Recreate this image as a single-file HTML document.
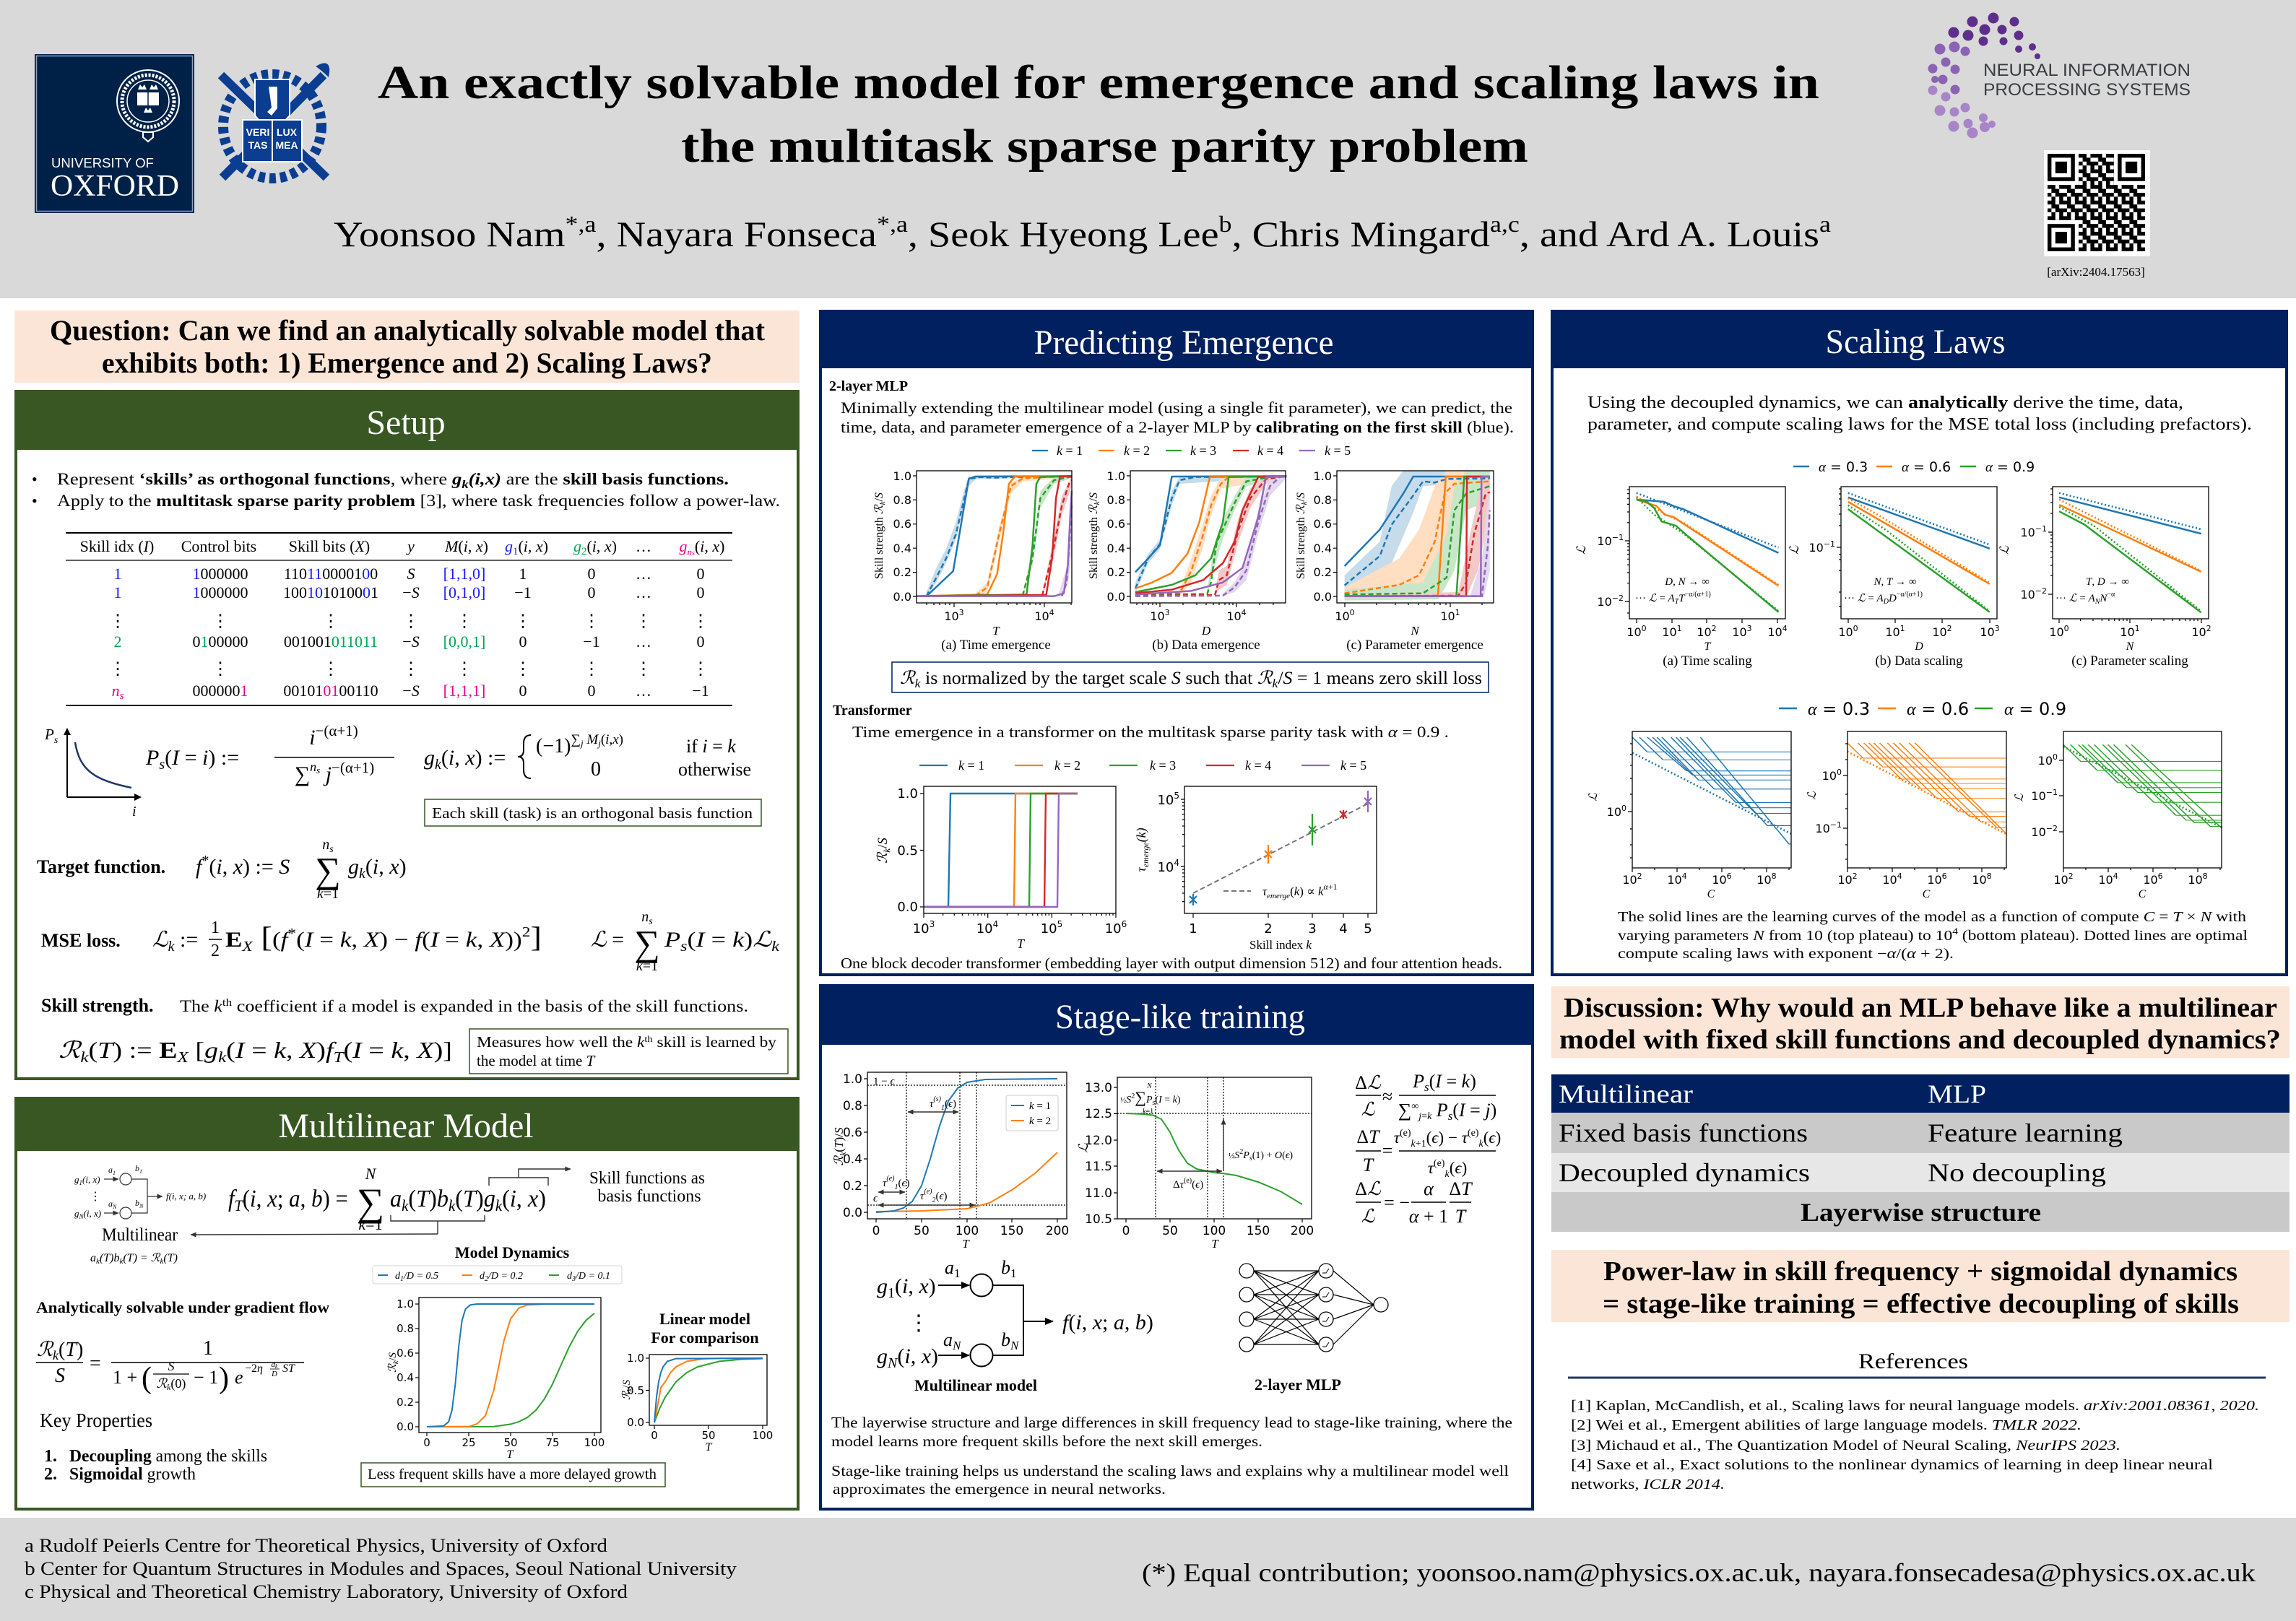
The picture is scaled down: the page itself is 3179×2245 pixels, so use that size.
<!DOCTYPE html>
<html><head><meta charset="utf-8"><style>
html,body{margin:0;padding:0;background:#fff;}
svg{display:block}
.s{font-family:"Liberation Serif","DejaVu Serif",serif}
.ss{font-family:"Liberation Sans","DejaVu Sans",sans-serif}
.t{font-family:"DejaVu Sans","Liberation Sans",sans-serif}
.i{font-style:italic}
.b{font-weight:bold}
.ln{fill:none;stroke-width:2.5;vector-effect:non-scaling-stroke;stroke-linejoin:round}
.lt{fill:none;stroke-width:3.2;vector-effect:non-scaling-stroke;stroke-linejoin:round}
.dl{fill:none;stroke-width:2.5;vector-effect:non-scaling-stroke;stroke-dasharray:7 4}
.dt{fill:none;stroke-width:2.6;vector-effect:non-scaling-stroke;stroke-dasharray:2 3}
.fr{fill:none;stroke:#000;stroke-width:1.3}
.tk{stroke:#000;stroke-width:1.2}
</style></head><body>
<svg width="3179" height="2245" viewBox="0 0 3179 2245" xmlns="http://www.w3.org/2000/svg">
<defs>
<marker id="ah" markerUnits="userSpaceOnUse" markerWidth="12" markerHeight="12" refX="11" refY="6" orient="auto-start-reverse"><path d="M0,1 L12,6 L0,11 z" fill="#000"/></marker>
<marker id="as" markerUnits="userSpaceOnUse" markerWidth="8" markerHeight="8" refX="7.5" refY="4" orient="auto-start-reverse"><path d="M0,0.5 L8,4 L0,7.5 z" fill="#333"/></marker>
<pattern id="qr" x="2835" y="213" width="21.6" height="21.6" patternUnits="userSpaceOnUse">
<rect x="0" y="0" width="10.8" height="5.4"/><rect x="16.2" y="0" width="5.4" height="5.4"/><rect x="5.4" y="5.4" width="10.8" height="5.4"/><rect x="0" y="10.8" width="5.4" height="5.4"/><rect x="10.8" y="10.8" width="10.8" height="5.4"/><rect x="5.4" y="16.2" width="5.4" height="5.4"/><rect x="16.2" y="16.2" width="5.4" height="5.4"/>
</pattern>
</defs>
<rect width="3179" height="2245" fill="#fff"/>
<!-- HEADER -->
<rect width="3179" height="413" fill="#d9d9d9"/>
<rect x="48" y="75" width="221" height="220" fill="#002147"/>
<rect x="50.5" y="77.5" width="216" height="215" fill="none" stroke="#8fa2c0" stroke-width="1.5"/>
<circle cx="205" cy="140" r="43" fill="none" stroke="#fff" stroke-width="2"/>
<circle cx="205" cy="140" r="36" fill="none" stroke="#fff" stroke-width="5" stroke-dasharray="3 2"/>
<circle cx="205" cy="140" r="29" fill="none" stroke="#fff" stroke-width="1.5"/>
<rect x="190" y="128" width="30" height="18" fill="#fff"/><line x1="205" y1="128" x2="205" y2="146" stroke="#002147" stroke-width="1.5"/>
<path d="M191,124 l3,-7 l3,4 l3,-4 l3,7 z M207,124 l3,-7 l3,4 l3,-4 l3,7 z M199,156 l3,-7 l3,4 l3,-4 l3,7 z" fill="#fff"/>
<path d="M198,183 h14 v7 l-7,6 l-7,-6 z" fill="none" stroke="#fff" stroke-width="2"/>
<text class="ss" x="71" y="232" font-size="18" fill="#fff" textLength="142" lengthAdjust="spacingAndGlyphs">UNIVERSITY OF</text>
<text class="s" x="70" y="271" font-size="42" fill="#fff" textLength="178" lengthAdjust="spacingAndGlyphs">OXFORD</text>
<!-- SNU -->
<g fill="#0b3d91" stroke="#0b3d91">
<line x1="306" y1="104" x2="452" y2="246" stroke-width="12"/>
<line x1="308" y1="246" x2="448" y2="104" stroke-width="12"/>
<path d="M440,92 q18,-10 14,12 q-6,-6 -14,-12z" stroke-width="3"/>
<ellipse cx="377" cy="175" rx="68" ry="72" fill="none" stroke-width="14" stroke-dasharray="9 6"/>
</g>
<path d="M353,110 H401 V160 Q377,190 353,160 Z" fill="#0b3d91" stroke="#fff" stroke-width="2"/>
<path d="M372,120 h12 v30 l-8,10 l-6,-5 l6,-6 z" fill="#fff"/>
<rect x="336" y="166" width="82" height="58" fill="#0b3d91" stroke="#fff" stroke-width="2"/>
<line x1="377" y1="166" x2="377" y2="224" stroke="#fff" stroke-width="2"/>
<text class="ss b" x="357" y="188" font-size="14" fill="#fff" text-anchor="middle">VERI</text>
<text class="ss b" x="397" y="188" font-size="14" fill="#fff" text-anchor="middle">LUX</text>
<text class="ss b" x="357" y="206" font-size="14" fill="#fff" text-anchor="middle">TAS</text>
<text class="ss b" x="397" y="206" font-size="14" fill="#fff" text-anchor="middle">MEA</text>
<!-- title -->
<text class="s b" x="523" y="136" font-size="66" textLength="1996" lengthAdjust="spacingAndGlyphs">An exactly solvable model for emergence and scaling laws in</text>
<text class="s b" x="943" y="224" font-size="66" textLength="1173" lengthAdjust="spacingAndGlyphs">the multitask sparse parity problem</text>
<text class="s" x="462" y="341" font-size="50" textLength="2073" lengthAdjust="spacingAndGlyphs">Yoonsoo Nam<tspan font-size="32" dy="-20">*,a</tspan><tspan dy="20">, Nayara Fonseca</tspan><tspan font-size="32" dy="-20">*,a</tspan><tspan dy="20">, Seok Hyeong Lee</tspan><tspan font-size="32" dy="-20">b</tspan><tspan dy="20">, Chris Mingard</tspan><tspan font-size="32" dy="-20">a,c</tspan><tspan dy="20">, and Ard A. Louis</tspan><tspan font-size="32" dy="-20">a</tspan></text>
<!-- NeurIPS -->
<g fill="#5e2f8a">
<circle cx="2789" cy="30" r="6.5"/><circle cx="2760" cy="25" r="7.5"/><circle cx="2731" cy="30" r="7.5"/><circle cx="2705" cy="45" r="7.5"/><circle cx="2814" cy="65" r="5"/><circle cx="2795" cy="49" r="6.5"/><circle cx="2772" cy="41" r="6.5"/><circle cx="2748" cy="41" r="7.5"/><circle cx="2725" cy="49" r="7.5"/><circle cx="2795" cy="68" r="5"/><circle cx="2774" cy="57" r="5.5"/><circle cx="2746" cy="57" r="6.5"/><circle cx="2821" cy="78" r="4"/>
</g>
<g fill="#8c63b3">
<circle cx="2686" cy="68" r="7.5"/><circle cx="2676" cy="95" r="6.5"/><circle cx="2706" cy="65" r="7.5"/><circle cx="2694" cy="86" r="6.5"/><circle cx="2690" cy="110" r="6.5"/><circle cx="2721" cy="71" r="6.5"/><circle cx="2707" cy="96" r="6.5"/><circle cx="2707" cy="124" r="6.5"/><circle cx="2679" cy="110" r="5"/>
</g>
<g fill="#a884c8">
<circle cx="2676" cy="125" r="6.5"/><circle cx="2686" cy="153" r="7.5"/><circle cx="2705" cy="175" r="7.5"/><circle cx="2731" cy="184" r="7.5"/><circle cx="2694" cy="134" r="6.5"/><circle cx="2706" cy="155" r="6.5"/><circle cx="2725" cy="171" r="6.5"/><circle cx="2748" cy="176" r="7"/><circle cx="2721" cy="149" r="6.5"/><circle cx="2746" cy="163" r="6"/><circle cx="2758" cy="172" r="5"/>
</g>
<text class="ss" x="2746" y="105" font-size="24" fill="#3a3d42" textLength="287" lengthAdjust="spacingAndGlyphs">NEURAL INFORMATION</text>
<text class="ss" x="2746" y="132" font-size="24" fill="#3a3d42" textLength="287" lengthAdjust="spacingAndGlyphs">PROCESSING SYSTEMS</text>
<!-- QR -->
<rect x="2830" y="208" width="147" height="147" fill="#fff"/>
<rect x="2835" y="213" width="135" height="135" fill="url(#qr)"/>
<g>
<rect x="2835" y="213" width="43" height="43" fill="#fff"/><rect x="2927" y="213" width="43" height="43" fill="#fff"/><rect x="2835" y="305" width="43" height="43" fill="#fff"/>
<rect x="2835" y="213" width="37.8" height="37.8" fill="#000"/><rect x="2840.4" y="218.4" width="27" height="27" fill="#fff"/><rect x="2845.8" y="223.8" width="16.2" height="16.2" fill="#000"/>
<rect x="2932.2" y="213" width="37.8" height="37.8" fill="#000"/><rect x="2937.6" y="218.4" width="27" height="27" fill="#fff"/><rect x="2943" y="223.8" width="16.2" height="16.2" fill="#000"/>
<rect x="2835" y="310.2" width="37.8" height="37.8" fill="#000"/><rect x="2840.4" y="315.6" width="27" height="27" fill="#fff"/><rect x="2845.8" y="321" width="16.2" height="16.2" fill="#000"/>
</g>
<text class="s" x="2902" y="382" font-size="17" text-anchor="middle">[arXiv:2404.17563]</text>

<!-- LEFT COLUMN -->
<rect x="20" y="430" width="1087" height="100" fill="#fbe5d6"/>
<text class="s b" x="69" y="471" font-size="40" textLength="990" lengthAdjust="spacingAndGlyphs">Question: Can we find an analytically solvable model that</text>
<text class="s b" x="141" y="516" font-size="40" textLength="845" lengthAdjust="spacingAndGlyphs">exhibits both:  1) Emergence and 2) Scaling Laws?</text>

<rect x="22" y="542" width="1083" height="952" fill="none" stroke="#385723" stroke-width="4"/>
<rect x="20" y="542" width="1087" height="81" fill="#385723"/>
<text class="s" x="562" y="601" font-size="48" fill="#fff" text-anchor="middle">Setup</text>

<text class="s" x="44" y="671" font-size="22">•</text>
<text class="s" x="79" y="671" font-size="23" textLength="930" lengthAdjust="spacingAndGlyphs">Represent <tspan class="b">‘skills’ as orthogonal functions</tspan>, where <tspan class="b i">g<tspan font-size="16" dy="5">k</tspan><tspan dy="-5">(i,x)</tspan></tspan> are the <tspan class="b">skill basis functions.</tspan></text>
<text class="s" x="44" y="701" font-size="22">•</text>
<text class="s" x="79" y="701" font-size="23" textLength="1001" lengthAdjust="spacingAndGlyphs">Apply to the <tspan class="b">multitask sparse parity problem</tspan> [3], where task frequencies follow a power-law.</text>

<!-- table -->
<line x1="91" y1="738" x2="1014" y2="738" stroke="#000" stroke-width="2"/>
<line x1="91" y1="776" x2="1014" y2="776" stroke="#000" stroke-width="1.3"/>
<line x1="91" y1="977" x2="1014" y2="977" stroke="#000" stroke-width="2"/>
<g class="s" font-size="22" text-anchor="middle">
<text x="162" y="764">Skill idx (<tspan class="i">I</tspan>)</text>
<text x="303" y="764">Control bits</text>
<text x="456" y="764">Skill bits (<tspan class="i">X</tspan>)</text>
<text x="569" y="764" class="i">y</text>
<text x="646" y="764"><tspan class="i">M</tspan>(<tspan class="i">i</tspan>, <tspan class="i">x</tspan>)</text>
<text x="729" y="764"><tspan class="i" fill="#1a1aff">g</tspan><tspan font-size="15" dy="4" fill="#1a1aff">1</tspan><tspan dy="-4">(</tspan><tspan class="i">i</tspan>, <tspan class="i">x</tspan>)</text>
<text x="824" y="764"><tspan class="i" fill="#00a651">g</tspan><tspan font-size="15" dy="4" fill="#00a651">2</tspan><tspan dy="-4">(</tspan><tspan class="i">i</tspan>, <tspan class="i">x</tspan>)</text>
<text x="891" y="764">…</text>
<text x="972" y="764"><tspan class="i" fill="#ec008c">g</tspan><tspan font-size="13" dy="5" fill="#ec008c" class="i">n<tspan font-size="10">s</tspan></tspan><tspan dy="-5">(</tspan><tspan class="i">i</tspan>, <tspan class="i">x</tspan>)</text>

<text x="163" y="802" fill="#1a1aff">1</text>
<text x="305" y="802"><tspan fill="#1a1aff">1</tspan>000000</text>
<text x="458" y="802">110<tspan fill="#1a1aff">11</tspan>00001<tspan fill="#1a1aff">0</tspan>0</text>
<text x="569" y="802" class="i">S</text>
<text x="643" y="802" fill="#1a1aff">[1,1,0]</text>
<text x="724" y="802">1</text><text x="819" y="802">0</text><text x="891" y="802">…</text><text x="970" y="802">0</text>

<text x="163" y="828" fill="#1a1aff">1</text>
<text x="305" y="828"><tspan fill="#1a1aff">1</tspan>000000</text>
<text x="458" y="828">100<tspan fill="#1a1aff">10</tspan>10100<tspan fill="#1a1aff">0</tspan>1</text>
<text x="569" y="828">−<tspan class="i">S</tspan></text>
<text x="643" y="828" fill="#1a1aff">[0,1,0]</text>
<text x="724" y="828">−1</text><text x="819" y="828">0</text><text x="891" y="828">…</text><text x="970" y="828">0</text>

<g font-size="24"><text x="163" y="868">⋮</text><text x="305" y="868">⋮</text><text x="458" y="868">⋮</text><text x="569" y="868">⋮</text><text x="643" y="868">⋮</text><text x="724" y="868">⋮</text><text x="819" y="868">⋮</text><text x="891" y="868">⋮</text><text x="970" y="868">⋮</text>
<text x="163" y="934">⋮</text><text x="305" y="934">⋮</text><text x="458" y="934">⋮</text><text x="569" y="934">⋮</text><text x="643" y="934">⋮</text><text x="724" y="934">⋮</text><text x="819" y="934">⋮</text><text x="891" y="934">⋮</text><text x="970" y="934">⋮</text></g>

<text x="163" y="896" fill="#00a651">2</text>
<text x="305" y="896">0<tspan fill="#00a651">1</tspan>00000</text>
<text x="458" y="896" fill="#00a651"><tspan fill="#000">001001</tspan>011011</text>
<text x="569" y="896">−<tspan class="i">S</tspan></text>
<text x="643" y="896" fill="#00a651">[0,0,1]</text>
<text x="724" y="896">0</text><text x="819" y="896">−1</text><text x="891" y="896">…</text><text x="970" y="896">0</text>

<text x="163" y="964" fill="#ec008c" class="i">n<tspan font-size="15" dy="4">s</tspan></text>
<text x="305" y="964">000000<tspan fill="#ec008c">1</tspan></text>
<text x="458" y="964">00101<tspan fill="#ec008c">01</tspan>00110</text>
<text x="569" y="964">−<tspan class="i">S</tspan></text>
<text x="643" y="964" fill="#ec008c">[1,1,1]</text>
<text x="724" y="964">0</text><text x="819" y="964">0</text><text x="891" y="964">…</text><text x="970" y="964">−1</text>
</g>

<!-- P_s graph -->
<path d="M93,1104 V1014 M93,1104 H190" stroke="#000" stroke-width="2" fill="none"/>
<path d="M88,1018 L93,1008 L98,1018 Z M186,1099 L196,1104 L186,1109 Z" fill="#000"/>
<text class="s i" x="62" y="1024" font-size="21">P<tspan font-size="14" dy="5">s</tspan></text>
<text class="s i" x="183" y="1130" font-size="20">i</text>
<path d="M104,1028 C110,1065 128,1080 182,1091" stroke="#1f3864" stroke-width="2.5" fill="none"/>
<g class="s" font-size="30">
<text x="202" y="1059"><tspan class="i">P</tspan><tspan font-size="20" dy="6" class="i">s</tspan><tspan dy="-6">(</tspan><tspan class="i">I</tspan> = <tspan class="i">i</tspan>) :=</text>
<text x="462" y="1031" text-anchor="middle"><tspan class="i">i</tspan><tspan font-size="21" dy="-12">−(α+1)</tspan></text>
<line x1="380" y1="1049" x2="546" y2="1049" stroke="#000" stroke-width="1.6"/>
<text x="463" y="1082" text-anchor="middle">∑<tspan font-size="18" dy="-14" class="i">n</tspan><tspan font-size="13" dy="3" class="i">s</tspan><tspan dy="11"> </tspan><tspan class="i">j</tspan><tspan font-size="21" dy="-12">−(α+1)</tspan></text>
<text x="587" y="1059"><tspan class="i">g</tspan><tspan font-size="20" dy="6" class="i">k</tspan><tspan dy="-6">(</tspan><tspan class="i">i</tspan>, <tspan class="i">x</tspan>) :=</text>
</g>
<path d="M735,1018 q-10,0 -10,12 v9 q0,9 -8,9 q8,0 8,9 v9 q0,12 10,12" stroke="#000" stroke-width="2" fill="none"/>
<text class="s" x="742" y="1042" font-size="28">(−1)<tspan font-size="19" dy="-12">∑</tspan><tspan font-size="13" dy="4" class="i">j</tspan><tspan font-size="19" dy="-4"> </tspan><tspan font-size="19" class="i">M</tspan><tspan font-size="13" dy="4" class="i">j</tspan><tspan font-size="19" dy="-4">(</tspan><tspan font-size="19" class="i">i</tspan><tspan font-size="19">,</tspan><tspan font-size="19" class="i">x</tspan><tspan font-size="19">)</tspan></text>
<text class="s" x="818" y="1074" font-size="28">0</text>
<text class="s" x="950" y="1042" font-size="26">if <tspan class="i">i</tspan> = <tspan class="i">k</tspan></text>
<text class="s" x="939" y="1074" font-size="26">otherwise</text>
<rect x="588" y="1107" width="466" height="37" fill="none" stroke="#385723" stroke-width="1.5"/>
<text class="s" x="598" y="1133" font-size="21" textLength="444" lengthAdjust="spacingAndGlyphs">Each skill (task) is an orthogonal basis function</text>

<!-- target -->
<text class="s b" x="51" y="1209" font-size="26">Target function.</text>
<g class="s" font-size="30">
<text x="271" y="1210"><tspan class="i">f</tspan><tspan font-size="20" dy="-12">*</tspan><tspan dy="12">(</tspan><tspan class="i">i</tspan>, <tspan class="i">x</tspan>) := <tspan class="i">S</tspan></text>
<text x="454" y="1222" font-size="50" text-anchor="middle">∑</text>
<text x="454" y="1176" font-size="20" text-anchor="middle" class="i">n<tspan font-size="14" dy="4">s</tspan></text>
<text x="454" y="1244" font-size="20" text-anchor="middle"><tspan class="i">k</tspan>=1</text>
<text x="482" y="1210"><tspan class="i">g</tspan><tspan font-size="20" dy="6" class="i">k</tspan><tspan dy="-6">(</tspan><tspan class="i">i</tspan>, <tspan class="i">x</tspan>)</text>
</g>
<!-- MSE -->
<text class="s b" x="57" y="1311" font-size="26">MSE loss.</text>
<g class="s" font-size="30">
<text x="211" y="1311"><tspan class="i">ℒ</tspan><tspan font-size="20" dy="6" class="i">k</tspan><tspan dy="-6"> :=</tspan></text>
<text x="298" y="1292" font-size="24" text-anchor="middle">1</text>
<line x1="289" y1="1301" x2="307" y2="1301" stroke="#000" stroke-width="1.5"/>
<text x="298" y="1324" font-size="24" text-anchor="middle">2</text>
<text x="312" y="1311" textLength="438" lengthAdjust="spacingAndGlyphs"><tspan class="b">E</tspan><tspan font-size="20" dy="6" class="i">X</tspan><tspan dy="-6" font-size="40"> [</tspan>(<tspan class="i">f</tspan><tspan font-size="20" dy="-12">*</tspan><tspan dy="12">(</tspan><tspan class="i">I</tspan> = <tspan class="i">k</tspan>, <tspan class="i">X</tspan>) − <tspan class="i">f</tspan>(<tspan class="i">I</tspan> = <tspan class="i">k</tspan>, <tspan class="i">X</tspan>))<tspan font-size="20" dy="-14">2</tspan><tspan dy="14" font-size="40">]</tspan></text>
<text x="818" y="1311"><tspan class="i">ℒ</tspan> =</text>
<text x="896" y="1323" font-size="50" text-anchor="middle">∑</text>
<text x="896" y="1276" font-size="20" text-anchor="middle" class="i">n<tspan font-size="14" dy="4">s</tspan></text>
<text x="896" y="1344" font-size="20" text-anchor="middle"><tspan class="i">k</tspan>=1</text>
<text x="920" y="1311" textLength="159" lengthAdjust="spacingAndGlyphs"><tspan class="i">P</tspan><tspan font-size="20" dy="6" class="i">s</tspan><tspan dy="-6">(</tspan><tspan class="i">I</tspan> = <tspan class="i">k</tspan>)<tspan class="i">ℒ</tspan><tspan font-size="20" dy="6" class="i">k</tspan></text>
</g>
<!-- skill strength -->
<text class="s b" x="57" y="1401" font-size="26">Skill strength.</text>
<text class="s" x="249" y="1401" font-size="23" textLength="787" lengthAdjust="spacingAndGlyphs">The <tspan class="i">k</tspan><tspan font-size="15" dy="-8">th</tspan><tspan dy="8"> coefficient if a model is expanded in the basis of the skill functions.</tspan></text>
<text class="s" x="81" y="1465" font-size="32" textLength="545" lengthAdjust="spacingAndGlyphs"><tspan class="i">ℛ</tspan><tspan font-size="21" dy="6" class="i">k</tspan><tspan dy="-6">(</tspan><tspan class="i">T</tspan>) := <tspan class="b">E</tspan><tspan font-size="21" dy="6" class="i">X</tspan><tspan dy="-6"> [</tspan><tspan class="i">g</tspan><tspan font-size="21" dy="6" class="i">k</tspan><tspan dy="-6">(</tspan><tspan class="i">I</tspan> = <tspan class="i">k</tspan>, <tspan class="i">X</tspan>)<tspan class="i">f</tspan><tspan font-size="21" dy="6" class="i">T</tspan><tspan dy="-6">(</tspan><tspan class="i">I</tspan> = <tspan class="i">k</tspan>, <tspan class="i">X</tspan>)]</text>
<rect x="650" y="1425" width="441" height="62" fill="none" stroke="#385723" stroke-width="1.5"/>
<text class="s" x="660" y="1450" font-size="21" textLength="415" lengthAdjust="spacingAndGlyphs">Measures how well the <tspan class="i">k</tspan><tspan font-size="13" dy="-7">th</tspan><tspan dy="7"> skill is learned by</tspan></text>
<text class="s" x="660" y="1476" font-size="21">the model at time <tspan class="i">T</tspan></text>

<!-- MULTILINEAR MODEL -->
<rect x="22" y="1521" width="1083" height="569" fill="none" stroke="#385723" stroke-width="4"/>
<rect x="20" y="1521" width="1087" height="73" fill="#385723"/>
<text class="s" x="562" y="1575" font-size="48" fill="#fff" text-anchor="middle">Multilinear Model</text>
<g class="s i" font-size="13">
<text x="103" y="1638">g<tspan font-size="9" dy="3">1</tspan><tspan dy="-3">(i, x)</tspan></text>
<text x="103" y="1685">g<tspan font-size="9" dy="3">N</tspan><tspan dy="-3">(i, x)</tspan></text>
<text x="150" y="1624" font-size="12">a<tspan font-size="8" dy="3">1</tspan></text>
<text x="187" y="1622" font-size="12">b<tspan font-size="8" dy="3">1</tspan></text>
<text x="150" y="1671" font-size="12">a<tspan font-size="8" dy="3">N</tspan></text>
<text x="187" y="1670" font-size="12">b<tspan font-size="8" dy="3">N</tspan></text>
<text x="230" y="1661">f(i, x; a, b)</text>
</g>
<text class="s" x="124" y="1662" font-size="16">⋮</text>
<g stroke="#333" stroke-width="1.2" fill="none">
<line x1="144" y1="1633" x2="164" y2="1633" marker-end="url(#as)"/><circle cx="174" cy="1633" r="8" fill="#fff"/>
<line x1="144" y1="1680" x2="164" y2="1680" marker-end="url(#as)"/><circle cx="174" cy="1680" r="8" fill="#fff"/>
<path d="M182,1633 H204 V1680 H182"/><line x1="204" y1="1657" x2="225" y2="1657" marker-end="url(#as)"/>
</g>
<text class="s" x="141" y="1718" font-size="25" textLength="105" lengthAdjust="spacingAndGlyphs">Multilinear</text>
<line x1="606" y1="1709" x2="264" y2="1710" stroke="#333" stroke-width="1.4" marker-end="url(#as)"/>
<path d="M541,1683 V1691 H671 V1683 M606,1691 V1709" stroke="#333" stroke-width="1.4" fill="none"/>
<path d="M677,1642 V1631 H759 V1642 M718,1631 V1619 H790" stroke="#333" stroke-width="1.4" fill="none" marker-end="url(#as)"/>
<text class="s i" x="125" y="1747" font-size="16">a<tspan font-size="11" dy="3">k</tspan><tspan dy="-3">(T)b</tspan><tspan font-size="11" dy="3">k</tspan><tspan dy="-3">(T) = ℛ</tspan><tspan font-size="11" dy="3">k</tspan><tspan dy="-3">(T)</tspan></text>
<g class="s" font-size="34">
<text x="316" y="1671" textLength="166" lengthAdjust="spacingAndGlyphs"><tspan class="i">f</tspan><tspan font-size="22" dy="6" class="i">T</tspan><tspan dy="-6">(</tspan><tspan class="i">i</tspan>, <tspan class="i">x</tspan>; <tspan class="i">a</tspan>, <tspan class="i">b</tspan>) =</text>
<text x="513" y="1683" font-size="54" text-anchor="middle">∑</text>
<text x="513" y="1633" font-size="22" text-anchor="middle" class="i">N</text>
<text x="513" y="1703" font-size="22" text-anchor="middle"><tspan class="i">k</tspan>=1</text>
<text x="540" y="1671" textLength="216" lengthAdjust="spacingAndGlyphs"><tspan class="i">a</tspan><tspan font-size="22" dy="6" class="i">k</tspan><tspan dy="-6">(</tspan><tspan class="i">T</tspan>)<tspan class="i">b</tspan><tspan font-size="22" dy="6" class="i">k</tspan><tspan dy="-6">(</tspan><tspan class="i">T</tspan>)<tspan class="i">g</tspan><tspan font-size="22" dy="6" class="i">k</tspan><tspan dy="-6">(</tspan><tspan class="i">i</tspan>, <tspan class="i">x</tspan>)</text>
</g>
<text class="s" x="816" y="1639" font-size="24" textLength="160" lengthAdjust="spacingAndGlyphs">Skill functions as</text>
<text class="s" x="899" y="1664" font-size="24" text-anchor="middle">basis functions</text>
<text class="s b" x="709" y="1742" font-size="22" text-anchor="middle">Model Dynamics</text>
<rect x="516" y="1753" width="345" height="25" rx="3" fill="#fff" stroke="#ddd" stroke-width="1.2"/>
<g stroke-width="2"><line x1="523" y1="1766" x2="537" y2="1766" stroke="#1f77b4"/><line x1="640" y1="1766" x2="654" y2="1766" stroke="#ff7f0e"/><line x1="760" y1="1766" x2="774" y2="1766" stroke="#2ca02c"/></g>
<g class="s i" font-size="14"><text x="547" y="1771">d<tspan font-size="10" dy="3">1</tspan><tspan dy="-3">/D = 0.5</tspan></text><text x="664" y="1771">d<tspan font-size="10" dy="3">2</tspan><tspan dy="-3">/D = 0.2</tspan></text><text x="785" y="1771">d<tspan font-size="10" dy="3">3</tspan><tspan dy="-3">/D = 0.1</tspan></text></g>
<!-- dynamics plot -->
<rect x="580" y="1797" width="252" height="187" class="fr"/>
<g class="tk"><line x1="575" y1="1976" x2="580" y2="1976"/><line x1="575" y1="1942" x2="580" y2="1942"/><line x1="575" y1="1908" x2="580" y2="1908"/><line x1="575" y1="1874" x2="580" y2="1874"/><line x1="575" y1="1840" x2="580" y2="1840"/><line x1="575" y1="1806" x2="580" y2="1806"/>
<line x1="591" y1="1984" x2="591" y2="1989"/><line x1="649" y1="1984" x2="649" y2="1989"/><line x1="707" y1="1984" x2="707" y2="1989"/><line x1="765" y1="1984" x2="765" y2="1989"/><line x1="823" y1="1984" x2="823" y2="1989"/></g>
<g class="t" font-size="15" text-anchor="end"><text x="573" y="1981">0.0</text><text x="573" y="1947">0.2</text><text x="573" y="1913">0.4</text><text x="573" y="1879">0.6</text><text x="573" y="1845">0.8</text><text x="573" y="1811">1.0</text></g>
<g class="t" font-size="15" text-anchor="middle"><text x="591" y="2003">0</text><text x="649" y="2003">25</text><text x="707" y="2003">50</text><text x="765" y="2003">75</text><text x="823" y="2003">100</text></g>
<text class="s i" x="706" y="2019" font-size="16" text-anchor="middle">T</text>
<text class="s" transform="translate(548,1887) rotate(-90)" font-size="15" text-anchor="middle"><tspan class="i">ℛ</tspan><tspan font-size="10" dy="3" class="i">k</tspan><tspan dy="-3">/</tspan><tspan class="i">S</tspan></text>
<polyline fill="none" stroke="#2ca02c" stroke-width="2" points="591,1976 683.8,1975.8 707,1972.4 718.6,1968.9 730.2,1963.1 742,1953 753.4,1938.1 765,1916.8 776.6,1891 788.2,1865.2 799.8,1843.9 811.4,1828.6 823,1818.9"/>
<polyline fill="none" stroke="#ff7f0e" stroke-width="2" points="591,1976 649,1975.8 660.6,1971.9 672.2,1960.4 683.8,1925 690.8,1891 697.7,1857 707,1826.4 718.6,1811.4 730.2,1807.4 753.4,1806 823,1806"/>
<polyline fill="none" stroke="#1f77b4" stroke-width="2" points="591,1976 614.2,1974.9 621.2,1968.9 625.8,1953.2 630.4,1916.7 632.8,1891 635.1,1865.3 639.7,1828.8 644.4,1813.1 651.3,1807.2 660.6,1806 823,1806"/>
<!-- linear model -->
<text class="s b" x="976" y="1834" font-size="22" text-anchor="middle">Linear model</text>
<text class="s b" x="976" y="1860" font-size="22" text-anchor="middle">For comparison</text>
<rect x="899" y="1876" width="163" height="98" class="fr"/>
<g class="tk"><line x1="894" y1="1970" x2="899" y2="1970"/><line x1="894" y1="1925.5" x2="899" y2="1925.5"/><line x1="894" y1="1881" x2="899" y2="1881"/><line x1="906" y1="1974" x2="906" y2="1979"/><line x1="981" y1="1974" x2="981" y2="1979"/><line x1="1056" y1="1974" x2="1056" y2="1979"/></g>
<g class="t" font-size="15" text-anchor="end"><text x="892" y="1975">0.0</text><text x="892" y="1931">0.5</text><text x="892" y="1886">1.0</text></g>
<g class="t" font-size="15" text-anchor="middle"><text x="906" y="1993">0</text><text x="981" y="1993">50</text><text x="1056" y="1993">100</text></g>
<text class="s i" x="981" y="2009" font-size="16" text-anchor="middle">T</text>
<text class="s" transform="translate(872,1925) rotate(-90)" font-size="15" text-anchor="middle"><tspan class="i">ℛ</tspan><tspan font-size="10" dy="3" class="i">k</tspan><tspan dy="-3">/</tspan><tspan class="i">S</tspan></text>
<polyline fill="none" stroke="#2ca02c" stroke-width="2" points="906,1970 913.5,1950.3 921,1935 936,1913.7 951,1900.9 966,1893 996,1885.4 1026,1882.6 1056,1881.6"/>
<polyline fill="none" stroke="#ff7f0e" stroke-width="2" points="906,1970 910.5,1947 915,1921.8 921,1913.7 928.5,1900.9 936,1893 951,1885.4 973.5,1882 996,1881.2 1056,1881"/>
<polyline fill="none" stroke="#1f77b4" stroke-width="2" points="906,1970 909,1935 912,1913.7 915,1900.9 918,1893.1 924,1885.4 936,1881.6 1056,1881"/>
<!-- analytic -->
<text class="s b" x="50" y="1818" font-size="22" textLength="406" lengthAdjust="spacingAndGlyphs">Analytically solvable under gradient flow</text>
<g class="s" font-size="28">
<text x="83" y="1878" text-anchor="middle"><tspan class="i">ℛ</tspan><tspan font-size="18" dy="5" class="i">k</tspan><tspan dy="-5">(</tspan><tspan class="i">T</tspan>)</text>
<line x1="50" y1="1887" x2="115" y2="1887" stroke="#000" stroke-width="1.5"/>
<text x="83" y="1914" text-anchor="middle" class="i">S</text>
<text x="124" y="1897">=</text>
<text x="288" y="1876" text-anchor="middle">1</text>
<line x1="154" y1="1887" x2="421" y2="1887" stroke="#000" stroke-width="1.5"/>
<text x="156" y="1916" font-size="26">1 +</text>
<text x="196" y="1922" font-size="42">(</text>
<text x="237" y="1898" font-size="18" text-anchor="middle" class="i">S</text>
<line x1="212" y1="1903" x2="262" y2="1903" stroke="#000" stroke-width="1.2"/>
<text x="237" y="1922" font-size="18" text-anchor="middle"><tspan class="i">ℛ</tspan><tspan font-size="12" dy="3" class="i">k</tspan><tspan dy="-3">(0)</tspan></text>
<text x="268" y="1916" font-size="26">− 1</text>
<text x="303" y="1922" font-size="42">)</text>
<text x="325" y="1916" font-size="26" class="i">e</text>
<text x="339" y="1900" font-size="16">−2<tspan class="i">η</tspan></text>
<text x="380" y="1893" font-size="11" text-anchor="middle" class="i">d<tspan font-size="8" dy="2">k</tspan></text>
<line x1="374" y1="1896" x2="387" y2="1896" stroke="#000" stroke-width="0.8"/>
<text x="380" y="1906" font-size="11" text-anchor="middle" class="i">D</text>
<text x="391" y="1900" font-size="16" class="i">ST</text>
</g>
<text class="s" x="55" y="1976" font-size="27" textLength="156" lengthAdjust="spacingAndGlyphs">Key Properties</text>
<text class="s" x="61" y="2024" font-size="24"><tspan class="b">1.</tspan></text>
<text class="s" x="96" y="2024" font-size="24" textLength="274" lengthAdjust="spacingAndGlyphs"><tspan class="b">Decoupling</tspan> among the skills</text>
<text class="s" x="61" y="2049" font-size="24"><tspan class="b">2.</tspan></text>
<text class="s" x="96" y="2049" font-size="24" textLength="175" lengthAdjust="spacingAndGlyphs"><tspan class="b">Sigmoidal</tspan> growth</text>
<rect x="500" y="2026" width="421" height="33" fill="none" stroke="#385723" stroke-width="1.5"/>
<text class="s" x="509" y="2048" font-size="20" textLength="400" lengthAdjust="spacingAndGlyphs">Less frequent skills have a more delayed growth</text>

<!-- MIDDLE COLUMN: PREDICTING EMERGENCE -->
<rect x="1136" y="431" width="986" height="919" fill="none" stroke="#002060" stroke-width="4"/>
<rect x="1134" y="431" width="990" height="79" fill="#002060"/>
<text class="s" x="1639" y="490" font-size="48" fill="#fff" text-anchor="middle" textLength="415" lengthAdjust="spacingAndGlyphs">Predicting Emergence</text>
<text class="s b" x="1148" y="541" font-size="20">2-layer MLP</text>
<text class="s" x="1164" y="572" font-size="22" textLength="930" lengthAdjust="spacingAndGlyphs">Minimally extending the multilinear model (using a single fit parameter), we can predict, the</text>
<text class="s" x="1164" y="599" font-size="22" textLength="932" lengthAdjust="spacingAndGlyphs">time, data, and parameter emergence of a 2-layer MLP by <tspan class="b">calibrating on the first skill</tspan> (blue).</text>
<g stroke-width="2.3"><line x1="1429" y1="624" x2="1451" y2="624" stroke="#1f77b4"/><line x1="1521" y1="624" x2="1543" y2="624" stroke="#ff7f0e"/><line x1="1614" y1="624" x2="1636" y2="624" stroke="#2ca02c"/><line x1="1707" y1="624" x2="1729" y2="624" stroke="#d62728"/><line x1="1799" y1="624" x2="1821" y2="624" stroke="#9467bd"/></g>
<g class="s" font-size="18"><text x="1463" y="630"><tspan class="i">k</tspan> = 1</text><text x="1556" y="630"><tspan class="i">k</tspan> = 2</text><text x="1648" y="630"><tspan class="i">k</tspan> = 3</text><text x="1741" y="630"><tspan class="i">k</tspan> = 4</text><text x="1834" y="630"><tspan class="i">k</tspan> = 5</text></g>
<!-- emergence plots data -->
<g transform="translate(1242,640) scale(0.5435,0.33333)">
<g opacity="0.25" stroke="none">
<polygon fill="#1f77b4" points="75,540 100,440 125,360 150,250 170,120 183,65 200,55 445,55 445,62 300,66 200,72 183,100 170,180 150,320 125,420 100,500 75,557"/>
<polygon fill="#ff7f0e" points="200,545 230,500 260,270 290,85 320,60 445,56 445,66 320,80 290,130 260,330 230,540 200,557"/>
<polygon fill="#2ca02c" points="320,550 345,370 365,120 400,62 445,58 445,68 400,90 365,190 345,430 320,557"/>
<polygon fill="#d62728" points="370,545 400,310 420,140 445,62 445,100 420,220 400,390 370,557"/>
<polygon fill="#9467bd" points="410,557 435,420 445,100 445,380 435,510 420,557"/>
<polygon fill="#1f77b4" points="607,500 640,380 670,320 700,120 720,60 992,58 992,62 720,90 700,180 670,360 640,420 607,545"/>
<polygon fill="#ff7f0e" points="720,530 750,400 780,250 800,140 825,65 992,58 992,64 825,110 800,220 780,350 750,500 720,557"/>
<polygon fill="#2ca02c" points="790,530 810,330 830,240 860,140 890,62 992,58 992,64 890,100 860,200 830,320 810,430 790,557"/>
<polygon fill="#d62728" points="810,540 820,450 840,430 870,230 900,110 940,60 992,58 992,64 940,90 900,190 870,330 840,510 820,530 810,557"/>
<polygon fill="#9467bd" points="830,545 860,500 890,410 920,200 950,66 992,58 992,66 950,140 920,300 890,490 860,540 830,557"/>
<polygon fill="#1f77b4" points="1140,470 1230,330 1260,100 1290,35 1510,35 1510,80 1340,100 1310,230 1260,420 1230,480 1140,557"/>
<polygon fill="#ff7f0e" points="1140,520 1280,400 1330,280 1370,100 1400,35 1510,35 1510,120 1420,200 1380,420 1330,545 1280,560 1140,565"/>
<polygon fill="#2ca02c" points="1140,530 1340,500 1400,300 1420,100 1450,35 1510,40 1510,160 1450,200 1420,450 1380,570 1140,575"/>
<polygon fill="#d62728" points="1140,552 1430,540 1460,300 1490,80 1510,60 1510,200 1480,450 1450,562 1140,562"/>
<polygon fill="#9467bd" points="1460,557 1490,400 1510,100 1510,450 1495,562"/>
</g>
<polyline class="ln" stroke="#1f77b4" points="50,557 75,557 143,453 183,68 200,60 445,58"/>
<polyline class="dl" stroke="#1f77b4" points="75,557 100,480 125,400 150,300 170,160 183,70 210,62 250,65 280,63 445,60"/>
<polyline class="ln" stroke="#ff7f0e" points="50,557 230,550 255,465 270,300 285,90 300,60 445,58"/>
<polyline class="dl" stroke="#ff7f0e" points="200,555 230,520 260,300 290,100 320,68 380,62 445,60"/>
<polyline class="ln" stroke="#2ca02c" points="50,557 330,550 345,350 355,90 365,62 445,58"/>
<polyline class="dl" stroke="#2ca02c" points="320,555 345,400 365,150 400,75 440,62 445,62"/>
<polyline class="ln" stroke="#d62728" points="50,557 380,552 395,400 405,150 415,60 445,58"/>
<polyline class="dl" stroke="#d62728" points="370,555 400,350 420,180 440,80 445,75"/>
<polyline class="ln" stroke="#9467bd" points="50,557 400,557 425,545 435,430 442,200 445,120"/>
<polyline class="dl" stroke="#9467bd" points="420,557 432,500 440,320 445,170"/>

<polyline class="ln" stroke="#1f77b4" points="607,457 640,400 670,345 700,60 992,58"/>
<polyline class="dl" stroke="#1f77b4" points="607,525 640,400 670,340 700,150 720,75 760,62 992,60"/>
<polyline class="ln" stroke="#ff7f0e" points="607,525 650,500 700,460 740,380 770,250 797,62 992,58"/>
<polyline class="dl" stroke="#ff7f0e" points="607,552 720,545 750,450 780,300 800,180 825,90 845,62 992,60"/>
<polyline class="ln" stroke="#2ca02c" points="607,540 700,510 760,470 800,400 830,250 845,62 992,58"/>
<polyline class="dl" stroke="#2ca02c" points="607,550 790,548 800,500 810,380 815,330 830,280 860,170 890,80 950,62 992,60"/>
<polyline class="ln" stroke="#d62728" points="607,545 700,530 780,490 830,420 860,330 880,200 920,62 992,58"/>
<polyline class="dl" stroke="#d62728" points="607,555 810,552 820,490 840,470 870,280 900,150 940,70 975,62 992,60"/>
<polyline class="ln" stroke="#9467bd" points="607,550 750,535 830,500 880,440 920,230 940,62 992,58"/>
<polyline class="dl" stroke="#9467bd" points="607,557 830,555 860,520 890,450 920,250 950,100 975,62 992,60"/>

<polyline class="ln" stroke="#1f77b4" points="1140,432 1230,280 1290,130 1315,60 1510,60"/>
<polyline class="dl" stroke="#1f77b4" points="1140,512 1230,390 1260,260 1310,150 1340,80 1370,85 1400,70 1510,68"/>
<polyline class="ln" stroke="#ff7f0e" points="1140,557 1378,557 1398,60 1510,60"/>
<polyline class="dl" stroke="#ff7f0e" points="1140,545 1280,510 1330,470 1370,330 1395,130 1420,90 1510,80"/>
<polyline class="ln" stroke="#2ca02c" points="1140,557 1425,557 1445,60 1510,60"/>
<polyline class="dl" stroke="#2ca02c" points="1140,550 1340,545 1400,480 1420,200 1450,130 1510,100"/>
<polyline class="ln" stroke="#d62728" points="1140,557 1450,557 1452,60 1510,60"/>
<polyline class="dl" stroke="#d62728" points="1140,557 1430,555 1450,500 1470,300 1500,130 1510,125"/>
<polyline class="ln" stroke="#9467bd" points="1140,557 1487,557 1489,60 1510,60"/>
<polyline class="dl" stroke="#9467bd" points="1140,557 1490,557 1505,350 1510,200"/>
</g>
<rect x="1269" y="652" width="215" height="183" class="fr"/>
<rect x="1565" y="652" width="215" height="183" class="fr"/>
<rect x="1851" y="652" width="217" height="183" class="fr"/>
<g class="tk">
<path d="M1264,826H1269M1264,792.6H1269M1264,759.2H1269M1264,725.8H1269M1264,692.4H1269M1264,659H1269"/>
<path d="M1560,826H1565M1560,792.6H1565M1560,759.2H1565M1560,725.8H1565M1560,692.4H1565M1560,659H1565"/>
<path d="M1846,826H1851M1846,792.6H1851M1846,759.2H1851M1846,725.8H1851M1846,692.4H1851M1846,659H1851"/>
<path d="M1321,835V841M1446,835V841M1606,835V841M1712,835V841M1862,835V841M2008,835V841"/>
<path d="M1283,835V838M1293,835V838M1301,835V838M1309,835V838M1315,835V838M1358,835V838M1380,835V838M1396,835V838M1408,835V838M1418,835V838M1426,835V838M1434,835V838M1440,835V838M1483,835V838 M1574,835V838M1582,835V838M1590,835V838M1596,835V838M1601,835V838M1638,835V838M1657,835V838M1670,835V838M1680,835V838M1688,835V838M1696,835V838M1702,835V838M1707,835V838M1744,835V838M1763,835V838 M1906,835V838M1932,835V838M1950,835V838M1964,835V838M1976,835V838M1986,835V838M1994,835V838M2002,835V838M2052,835V838"/>
</g>
<g class="t" font-size="16" text-anchor="end">
<text x="1262" y="832">0.0</text><text x="1262" y="798">0.2</text><text x="1262" y="765">0.4</text><text x="1262" y="731">0.6</text><text x="1262" y="698">0.8</text><text x="1262" y="665">1.0</text>
<text x="1558" y="832">0.0</text><text x="1558" y="798">0.2</text><text x="1558" y="765">0.4</text><text x="1558" y="731">0.6</text><text x="1558" y="698">0.8</text><text x="1558" y="665">1.0</text>
<text x="1844" y="832">0.0</text><text x="1844" y="798">0.2</text><text x="1844" y="765">0.4</text><text x="1844" y="731">0.6</text><text x="1844" y="698">0.8</text><text x="1844" y="665">1.0</text>
</g>
<g class="t" font-size="16" text-anchor="middle">
<text x="1321" y="859">10<tspan font-size="11" dy="-7">3</tspan></text><text x="1446" y="859">10<tspan font-size="11" dy="-7">4</tspan></text>
<text x="1606" y="859">10<tspan font-size="11" dy="-7">3</tspan></text><text x="1712" y="859">10<tspan font-size="11" dy="-7">4</tspan></text>
<text x="1862" y="859">10<tspan font-size="11" dy="-7">0</tspan></text><text x="2008" y="859">10<tspan font-size="11" dy="-7">1</tspan></text>
</g>
<g class="s" font-size="17" text-anchor="middle">
<text x="1379" y="879" class="i">T</text><text x="1670" y="879" class="i">D</text><text x="1959" y="879" class="i">N</text>
</g>
<g class="s" font-size="19" text-anchor="middle">
<text x="1379" y="899">(a) Time emergence</text><text x="1670" y="899">(b) Data emergence</text><text x="1959" y="899">(c) Parameter emergence</text>
</g>
<g class="s" font-size="16" text-anchor="middle">
<text transform="translate(1222,742) rotate(-90)">Skill strength  <tspan class="i">ℛ</tspan><tspan font-size="11" dy="3" class="i">k</tspan><tspan dy="-3">/</tspan><tspan class="i">S</tspan></text>
<text transform="translate(1519,742) rotate(-90)">Skill strength  <tspan class="i">ℛ</tspan><tspan font-size="11" dy="3" class="i">k</tspan><tspan dy="-3">/</tspan><tspan class="i">S</tspan></text>
<text transform="translate(1806,742) rotate(-90)">Skill strength  <tspan class="i">ℛ</tspan><tspan font-size="11" dy="3" class="i">k</tspan><tspan dy="-3">/</tspan><tspan class="i">S</tspan></text>
</g>
<rect x="1235" y="917" width="826" height="42" fill="none" stroke="#002060" stroke-width="1.5"/>
<text class="s" x="1246" y="947" font-size="25" textLength="806" lengthAdjust="spacingAndGlyphs"><tspan class="i">ℛ</tspan><tspan font-size="17" dy="5" class="i">k</tspan><tspan dy="-5"> is normalized by the target scale </tspan><tspan class="i">S</tspan> such that <tspan class="i">ℛ</tspan><tspan font-size="17" dy="5" class="i">k</tspan><tspan dy="-5">/</tspan><tspan class="i">S</tspan> = 1 means zero skill loss</text>
<text class="s b" x="1153" y="990" font-size="20">Transformer</text>
<text class="s" x="1180" y="1021" font-size="22" textLength="826" lengthAdjust="spacingAndGlyphs">Time emergence in a transformer on the multitask sparse parity task with <tspan class="i">α</tspan> = 0.9 .</text>
<g stroke-width="2.3"><line x1="1273" y1="1060" x2="1312" y2="1060" stroke="#1f77b4"/><line x1="1405" y1="1060" x2="1444" y2="1060" stroke="#ff7f0e"/><line x1="1536" y1="1060" x2="1575" y2="1060" stroke="#2ca02c"/><line x1="1670" y1="1060" x2="1709" y2="1060" stroke="#d62728"/><line x1="1802" y1="1060" x2="1841" y2="1060" stroke="#9467bd"/></g>
<g class="s" font-size="18"><text x="1327" y="1066"><tspan class="i">k</tspan> = 1</text><text x="1460" y="1066"><tspan class="i">k</tspan> = 2</text><text x="1592" y="1066"><tspan class="i">k</tspan> = 3</text><text x="1724" y="1066"><tspan class="i">k</tspan> = 4</text><text x="1856" y="1066"><tspan class="i">k</tspan> = 5</text></g>
<!-- transformer plot -->
<g fill="none" stroke-width="2.4">
<polyline stroke="#1f77b4" points="1279,1256 1313,1256 1316,1099 1492,1099"/>
<polyline stroke="#ff7f0e" points="1279,1256 1404,1256 1406,1099 1492,1099"/>
<polyline stroke="#2ca02c" points="1279,1256 1425,1256 1427,1099 1492,1099"/>
<polyline stroke="#d62728" points="1279,1256 1446,1256 1448,1099 1492,1099"/>
<polyline stroke="#9467bd" points="1279,1256 1464,1256 1466,1099 1492,1099"/>
</g>
<rect x="1279" y="1089" width="266" height="176" class="fr"/>
<g class="tk">
<path d="M1274,1256H1279M1274,1177.5H1279M1274,1099H1279 M1279,1265V1271M1367.7,1265V1271M1456.4,1265V1271M1545,1265V1271"/>
<path d="M1305.7,1265V1268M1321.3,1265V1268M1332.4,1265V1268M1341,1265V1268M1348,1265V1268M1354,1265V1268M1359,1265V1268M1363.6,1265V1268 M1394.4,1265V1268M1410,1265V1268M1421,1265V1268M1429.7,1265V1268M1436.7,1265V1268M1442.7,1265V1268M1447.8,1265V1268M1452.3,1265V1268 M1483.1,1265V1268M1498.7,1265V1268M1509.8,1265V1268M1518.4,1265V1268M1525.4,1265V1268M1531.4,1265V1268M1536.5,1265V1268M1541,1265V1268"/>
</g>
<g class="t" font-size="18" text-anchor="end"><text x="1271" y="1262">0.0</text><text x="1271" y="1184">0.5</text><text x="1271" y="1105">1.0</text></g>
<g class="t" font-size="18" text-anchor="middle"><text x="1279" y="1292">10<tspan font-size="12" dy="-8">3</tspan></text><text x="1367" y="1292">10<tspan font-size="12" dy="-8">4</tspan></text><text x="1456" y="1292">10<tspan font-size="12" dy="-8">5</tspan></text><text x="1545" y="1292">10<tspan font-size="12" dy="-8">6</tspan></text></g>
<text class="s i" x="1413" y="1313" font-size="18" text-anchor="middle">T</text>
<text class="s" transform="translate(1228,1178) rotate(-90)" font-size="19" text-anchor="middle"><tspan class="i">ℛ</tspan><tspan font-size="13" dy="4" class="i">k</tspan><tspan dy="-4">/</tspan><tspan class="i">S</tspan></text>
<!-- tau plot -->
<rect x="1640" y="1089" width="266" height="176" class="fr"/>
<line x1="1652" y1="1237" x2="1894" y2="1113" stroke="#777" stroke-width="2" stroke-dasharray="7 4"/>
<g stroke-width="2.2" fill="none">
<path stroke="#1f77b4" d="M1652,1238V1254M1647,1241L1657,1251M1657,1241L1647,1251"/>
<path stroke="#ff7f0e" d="M1756,1170V1196M1751,1178L1761,1188M1761,1178L1751,1188"/>
<path stroke="#2ca02c" d="M1817,1127V1171M1812,1144L1822,1154M1822,1144L1812,1154"/>
<path stroke="#d62728" d="M1860,1122V1134M1855,1123L1865,1133M1865,1123L1855,1133"/>
<path stroke="#9467bd" d="M1894,1095V1125M1889,1105L1899,1115M1899,1105L1889,1115"/>
</g>
<g class="tk">
<path d="M1635,1107H1640M1635,1200H1640 M1652,1265V1271M1756,1265V1271M1817,1265V1271M1860,1265V1271M1894,1265V1271"/>
<path d="M1637,1172H1640M1637,1155.6H1640M1637,1144H1640M1637,1135H1640M1637,1127.6H1640M1637,1121.4H1640M1637,1116H1640M1637,1111.3H1640M1637,1248.6H1640M1637,1237H1640M1637,1228H1640M1637,1220.6H1640M1637,1214.4H1640M1637,1209H1640M1637,1204.3H1640"/>
</g>
<g class="t" font-size="18" text-anchor="end"><text x="1633" y="1114">10<tspan font-size="12" dy="-8">5</tspan></text><text x="1633" y="1207">10<tspan font-size="12" dy="-8">4</tspan></text></g>
<g class="t" font-size="18" text-anchor="middle"><text x="1652" y="1292">1</text><text x="1756" y="1292">2</text><text x="1817" y="1292">3</text><text x="1860" y="1292">4</text><text x="1894" y="1292">5</text></g>
<text class="s" x="1773" y="1314" font-size="17" text-anchor="middle">Skill index <tspan class="i">k</tspan></text>
<text class="s i" transform="translate(1586,1177) rotate(-90)" font-size="18" text-anchor="middle">τ<tspan font-size="12" dy="4">emerge</tspan><tspan dy="-4">(k)</tspan></text>
<line x1="1694" y1="1234" x2="1732" y2="1234" stroke="#777" stroke-width="2" stroke-dasharray="7 4"/>
<text class="s" x="1748" y="1240" font-size="17"><tspan class="i">τ</tspan><tspan font-size="11" dy="4" class="i">emerge</tspan><tspan dy="-4">(</tspan><tspan class="i">k</tspan>) ∝ <tspan class="i">k</tspan><tspan font-size="12" dy="-8" class="i">α</tspan><tspan font-size="12">+1</tspan></text>
<text class="s" x="1164" y="1341" font-size="21" textLength="916" lengthAdjust="spacingAndGlyphs">One block decoder transformer (embedding layer with output dimension 512) and four attention heads.</text>

<!-- STAGE-LIKE TRAINING -->
<rect x="1136" y="1365" width="986" height="725" fill="none" stroke="#002060" stroke-width="4"/>
<rect x="1134" y="1365" width="990" height="82" fill="#002060"/>
<text class="s" x="1634" y="1424" font-size="48" fill="#fff" text-anchor="middle" textLength="346" lengthAdjust="spacingAndGlyphs">Stage-like training</text>
<!-- left plot -->
<rect x="1201" y="1485" width="276" height="203" class="fr"/>
<g stroke="#000" stroke-width="1.2" stroke-dasharray="2 2" fill="none">
<path d="M1201,1503H1477M1201,1669H1477M1255,1485V1688M1329,1485V1688M1352,1485V1688"/>
</g>
<polyline fill="none" stroke="#ff7f0e" stroke-width="2" points="1213,1678 1276,1677 1339,1674 1351,1671 1370,1666 1401,1648 1433,1625 1464,1596"/>
<polyline fill="none" stroke="#1f77b4" stroke-width="2" points="1213,1679 1238,1677 1251,1673 1263,1664 1276,1642 1288,1605 1301,1559 1313,1525 1326,1507 1339,1499 1364,1495 1464,1494"/>
<g stroke="#333" stroke-width="1.4" fill="none">
<line x1="1257" y1="1540" x2="1327" y2="1540" marker-start="url(#as)" marker-end="url(#as)"/>
<line x1="1216" y1="1651" x2="1253" y2="1651" marker-start="url(#as)" marker-end="url(#as)"/>
<line x1="1216" y1="1669" x2="1350" y2="1669" marker-start="url(#as)" marker-end="url(#as)"/>
</g>
<g class="s" font-size="15">
<text x="1209" y="1502">1 − <tspan class="i">ϵ</tspan></text>
<text x="1287" y="1533" class="i">τ<tspan font-size="10" dy="-8">(s)</tspan><tspan font-size="10" dy="12">1</tspan><tspan dy="-4" font-style="normal">(</tspan>ϵ<tspan font-style="normal">)</tspan></text>
<text x="1222" y="1643" class="i">τ<tspan font-size="10" dy="-8">(e)</tspan><tspan font-size="10" dy="12">1</tspan><tspan dy="-4" font-style="normal">(</tspan>ϵ<tspan font-style="normal">)</tspan></text>
<text x="1274" y="1661" class="i">τ<tspan font-size="10" dy="-8">(e)</tspan><tspan font-size="10" dy="12">2</tspan><tspan dy="-4" font-style="normal">(</tspan>ϵ<tspan font-style="normal">)</tspan></text>
<text x="1209" y="1664" class="i">ϵ</text>
</g>
<rect x="1393" y="1517" width="72" height="49" rx="3" fill="#fff" stroke="#ccc" stroke-width="1"/>
<line x1="1400" y1="1531" x2="1418" y2="1531" stroke="#1f77b4" stroke-width="2"/>
<line x1="1400" y1="1552" x2="1418" y2="1552" stroke="#ff7f0e" stroke-width="2"/>
<g class="s" font-size="15"><text x="1425" y="1536"><tspan class="i">k</tspan> = 1</text><text x="1425" y="1557"><tspan class="i">k</tspan> = 2</text></g>
<g class="tk"><path d="M1196,1679H1201M1196,1642H1201M1196,1605H1201M1196,1568H1201M1196,1531H1201M1196,1494H1201 M1213,1688V1693M1276,1688V1693M1339,1688V1693M1401,1688V1693M1464,1688V1693"/></g>
<g class="t" font-size="17" text-anchor="end"><text x="1194" y="1685">0.0</text><text x="1194" y="1648">0.2</text><text x="1194" y="1611">0.4</text><text x="1194" y="1574">0.6</text><text x="1194" y="1537">0.8</text><text x="1194" y="1500">1.0</text></g>
<g class="t" font-size="17" text-anchor="middle"><text x="1213" y="1710">0</text><text x="1276" y="1710">50</text><text x="1339" y="1710">100</text><text x="1401" y="1710">150</text><text x="1464" y="1710">200</text></g>
<text class="s i" x="1337" y="1728" font-size="17" text-anchor="middle">T</text>
<text class="s" transform="translate(1167,1588) rotate(-90)" font-size="17" text-anchor="middle"><tspan class="i">ℛ</tspan><tspan font-size="12" dy="4" class="i">k</tspan><tspan dy="-4">(</tspan><tspan class="i">T</tspan>)/<tspan class="i">S</tspan></text>
<!-- middle plot -->
<rect x="1547" y="1492" width="269" height="196" class="fr"/>
<g stroke="#000" stroke-width="1.2" stroke-dasharray="2 2" fill="none"><path d="M1547,1542H1816M1600,1492V1688M1672,1492V1688M1694,1492V1688"/></g>
<polyline fill="none" stroke="#2ca02c" stroke-width="2" points="1559,1542 1583,1543 1596,1544.5 1608,1550 1620,1568 1626,1581 1632,1593 1644,1611 1657,1619 1681,1624 1693,1625 1712,1628 1742,1637 1773,1650 1803,1668"/>
<line x1="1694" y1="1620" x2="1694" y2="1550" stroke="#333" stroke-width="1.4" marker-end="url(#as)"/>
<line x1="1602" y1="1622" x2="1692" y2="1622" stroke="#333" stroke-width="1.4" marker-start="url(#as)" marker-end="url(#as)"/>
<text class="s" x="1551" y="1527" font-size="14"><tspan font-size="11">½</tspan><tspan class="i">S</tspan><tspan font-size="10" dy="-6">2</tspan><tspan dy="6" font-size="22">∑</tspan><tspan class="i">P</tspan><tspan font-size="10" dy="3" class="i">s</tspan><tspan dy="-3">(</tspan><tspan class="i">I</tspan> = <tspan class="i">k</tspan>)</text>
<text class="s i" x="1588" y="1507" font-size="10">N</text>
<text class="s" x="1582" y="1542" font-size="10"><tspan class="i">k</tspan>=1</text>
<text class="s" x="1701" y="1604" font-size="14"><tspan font-size="11">½</tspan><tspan class="i">S</tspan><tspan font-size="10" dy="-6">2</tspan><tspan dy="6" class="i">P</tspan><tspan font-size="10" dy="3" class="i">s</tspan><tspan dy="-3">(1) + </tspan><tspan class="i">O</tspan>(<tspan class="i">ϵ</tspan>)</text>
<text class="s" x="1624" y="1645" font-size="15">Δ<tspan class="i">τ</tspan><tspan font-size="10" dy="-7">(e)</tspan><tspan dy="7">(</tspan><tspan class="i">ϵ</tspan>)</text>
<g class="tk"><path d="M1542,1506H1547M1542,1542.4H1547M1542,1579H1547M1542,1615H1547M1542,1652H1547M1542,1688H1547 M1559,1688V1693M1620,1688V1693M1681,1688V1693M1742,1688V1693M1803,1688V1693"/></g>
<g class="t" font-size="17" text-anchor="end"><text x="1540" y="1512">13.0</text><text x="1540" y="1548">12.5</text><text x="1540" y="1585">12.0</text><text x="1540" y="1621">11.5</text><text x="1540" y="1658">11.0</text><text x="1540" y="1694">10.5</text></g>
<g class="t" font-size="17" text-anchor="middle"><text x="1559" y="1710">0</text><text x="1620" y="1710">50</text><text x="1681" y="1710">100</text><text x="1742" y="1710">150</text><text x="1803" y="1710">200</text></g>
<text class="s i" x="1682" y="1728" font-size="17" text-anchor="middle">T</text>
<text class="s i" transform="translate(1506,1590) rotate(-90)" font-size="18" text-anchor="middle">ℒ</text>
<!-- equations -->
<g class="s" font-size="26" text-anchor="middle">
<text x="1894" y="1508">Δ<tspan class="i">ℒ</tspan></text><line x1="1877" y1="1517" x2="1912" y2="1517" stroke="#000" stroke-width="1.4"/><text x="1894" y="1545" class="i">ℒ</text>
<text x="1921" y="1527">≈</text>
<text x="2000" y="1506"><tspan class="i">P</tspan><tspan font-size="17" dy="5" class="i">s</tspan><tspan dy="-5">(</tspan><tspan class="i">I</tspan> = <tspan class="i">k</tspan>)</text>
<line x1="1937" y1="1517" x2="2071" y2="1517" stroke="#000" stroke-width="1.4"/>
<text x="2004" y="1546">∑<tspan font-size="14" dy="-10">∞</tspan><tspan font-size="14" dy="14" class="i">j</tspan><tspan font-size="14">=</tspan><tspan font-size="14" class="i">k</tspan><tspan dy="-4" class="i"> P</tspan><tspan font-size="17" dy="5" class="i">s</tspan><tspan dy="-5">(</tspan><tspan class="i">I</tspan> = <tspan class="i">j</tspan>)</text>
<text x="1894" y="1583">Δ<tspan class="i">T</tspan></text><line x1="1877" y1="1594" x2="1912" y2="1594" stroke="#000" stroke-width="1.4"/><text x="1894" y="1622" class="i">T</text>
<text x="1921" y="1602">=</text>
<text x="2004" y="1583" font-size="23"><tspan class="i">τ</tspan><tspan font-size="14" dy="-10">(e)</tspan><tspan font-size="14" dy="15" class="i">k</tspan><tspan font-size="14">+1</tspan><tspan dy="-5">(</tspan><tspan class="i">ϵ</tspan>) − <tspan class="i">τ</tspan><tspan font-size="14" dy="-10">(e)</tspan><tspan font-size="14" dy="15" class="i">k</tspan><tspan dy="-5">(</tspan><tspan class="i">ϵ</tspan>)</text>
<line x1="1937" y1="1594" x2="2071" y2="1594" stroke="#000" stroke-width="1.4"/>
<text x="2004" y="1625" font-size="23"><tspan class="i">τ</tspan><tspan font-size="14" dy="-10">(e)</tspan><tspan font-size="14" dy="15" class="i">k</tspan><tspan dy="-5">(</tspan><tspan class="i">ϵ</tspan>)</text>
<text x="1894" y="1655">Δ<tspan class="i">ℒ</tspan></text><line x1="1877" y1="1665" x2="1912" y2="1665" stroke="#000" stroke-width="1.4"/><text x="1894" y="1693" class="i">ℒ</text>
<text x="1934" y="1674">= −</text>
<text x="1978" y="1655" class="i">α</text><line x1="1954" y1="1665" x2="2002" y2="1665" stroke="#000" stroke-width="1.4"/><text x="1978" y="1693"><tspan class="i">α</tspan> + 1</text>
<text x="2022" y="1655">Δ<tspan class="i">T</tspan></text><line x1="2007" y1="1665" x2="2037" y2="1665" stroke="#000" stroke-width="1.4"/><text x="2022" y="1693" class="i">T</text>
</g>
<!-- diagrams -->
<g class="s" font-size="30">
<text x="1214" y="1791"><tspan class="i">g</tspan><tspan font-size="20" dy="6">1</tspan><tspan dy="-6">(</tspan><tspan class="i">i</tspan>, <tspan class="i">x</tspan>)</text>
<text x="1214" y="1888"><tspan class="i">g</tspan><tspan font-size="20" dy="6" class="i">N</tspan><tspan dy="-6">(</tspan><tspan class="i">i</tspan>, <tspan class="i">x</tspan>)</text>
<text x="1257" y="1842">⋮</text>
<text x="1308" y="1764" font-size="26" class="i">a<tspan font-size="17" dy="5" font-style="normal">1</tspan></text>
<text x="1386" y="1764" font-size="26" class="i">b<tspan font-size="17" dy="5" font-style="normal">1</tspan></text>
<text x="1306" y="1864" font-size="26" class="i">a<tspan font-size="17" dy="5">N</tspan></text>
<text x="1386" y="1864" font-size="26" class="i">b<tspan font-size="17" dy="5">N</tspan></text>
<text x="1471" y="1841"><tspan class="i">f</tspan>(<tspan class="i">i</tspan>, <tspan class="i">x</tspan>; <tspan class="i">a</tspan>, <tspan class="i">b</tspan>)</text>
</g>
<g stroke="#000" stroke-width="2" fill="none">
<line x1="1299" y1="1780" x2="1342" y2="1780" marker-end="url(#ah)"/>
<line x1="1299" y1="1877" x2="1342" y2="1877" marker-end="url(#ah)"/>
<circle cx="1359" cy="1780" r="15.5"/><circle cx="1359" cy="1877" r="15.5"/>
<path d="M1375,1780H1417V1877H1375"/>
<line x1="1417" y1="1830" x2="1458" y2="1830" marker-end="url(#ah)"/>
</g>
<text class="s b" x="1351" y="1926" font-size="22" text-anchor="middle">Multilinear model</text>
<g stroke="#000" stroke-width="1.2" fill="none">
<path d="M1736,1760L1826,1760M1736,1760L1826,1793M1736,1760L1826,1827M1736,1760L1826,1862 M1736,1793L1826,1760M1736,1793L1826,1793M1736,1793L1826,1827M1736,1793L1826,1862 M1736,1827L1826,1760M1736,1827L1826,1793M1736,1827L1826,1827M1736,1827L1826,1862 M1736,1862L1826,1760M1736,1862L1826,1793M1736,1862L1826,1827M1736,1862L1826,1862"/>
<path d="M1846,1760L1902,1807M1846,1793L1902,1807M1846,1827L1902,1807M1846,1862L1902,1807"/>
</g>
<g fill="#fff" stroke="#000" stroke-width="1.3">
<circle cx="1726" cy="1760" r="10"/><circle cx="1726" cy="1793" r="10"/><circle cx="1726" cy="1827" r="10"/><circle cx="1726" cy="1862" r="10"/>
<circle cx="1836" cy="1760" r="10"/><circle cx="1836" cy="1793" r="10"/><circle cx="1836" cy="1827" r="10"/><circle cx="1836" cy="1862" r="10"/>
<circle cx="1912" cy="1807" r="10"/>
</g>
<g stroke="#000" stroke-width="1" fill="none"><path d="M1831,1763h5l4,-6M1831,1796h5l4,-6M1831,1830h5l4,-6M1831,1865h5l4,-6"/></g>
<text class="s b" x="1797" y="1925" font-size="22" text-anchor="middle">2-layer MLP</text>
<g class="s" font-size="21">
<text x="1151" y="1977" textLength="943" lengthAdjust="spacingAndGlyphs">The layerwise structure and large differences in skill frequency lead to stage-like training, where the</text>
<text x="1151" y="2003" textLength="597" lengthAdjust="spacingAndGlyphs">model learns more frequent skills before the next skill emerges.</text>
<text x="1151" y="2044" textLength="938" lengthAdjust="spacingAndGlyphs">Stage-like training helps us understand the scaling laws and explains why a multilinear model well</text>
<text x="1153" y="2069" textLength="461" lengthAdjust="spacingAndGlyphs">approximates the emergence in neural networks.</text>
</g>

<!-- RIGHT COLUMN: SCALING LAWS -->
<rect x="2149" y="431" width="1017" height="919" fill="none" stroke="#002060" stroke-width="4"/>
<rect x="2147" y="431" width="1021" height="79" fill="#002060"/>
<text class="s" x="2652" y="489" font-size="48" fill="#fff" text-anchor="middle" textLength="249" lengthAdjust="spacingAndGlyphs">Scaling Laws</text>
<text class="s" x="2198" y="565" font-size="24" textLength="825" lengthAdjust="spacingAndGlyphs">Using the decoupled dynamics, we can <tspan class="b">analytically</tspan> derive the time, data,</text>
<text class="s" x="2198" y="595" font-size="24" textLength="920" lengthAdjust="spacingAndGlyphs">parameter, and compute scaling laws for the MSE total loss (including prefactors).</text>
<g stroke-width="2.4"><line x1="2483" y1="646" x2="2505" y2="646" stroke="#1f77b4"/><line x1="2598" y1="646" x2="2620" y2="646" stroke="#ff7f0e"/><line x1="2714" y1="646" x2="2736" y2="646" stroke="#2ca02c"/></g>
<g class="t" font-size="19"><text x="2518" y="653"><tspan class="s i">α</tspan> = 0.3</text><text x="2633" y="653"><tspan class="s i">α</tspan> = 0.6</text><text x="2749" y="653"><tspan class="s i">α</tspan> = 0.9</text></g>
<g transform="translate(2130,410) scale(0.6689,0.6061)">
<polyline class="dt" stroke="#1f77b4" points="203,450 497,575"/>
<polyline class="ln" stroke="#1f77b4" points="203,465 260,470 280,480 300,487 497,587"/>
<polyline class="dt" stroke="#ff7f0e" points="203,458 262,498 300,518 497,660"/>
<polyline class="ln" stroke="#ff7f0e" points="203,465 245,480 262,500 280,505 300,520 497,662"/>
<polyline class="dt" stroke="#2ca02c" points="203,460 240,500 300,542 497,720"/>
<polyline class="ln" stroke="#2ca02c" points="203,465 225,470 240,485 255,515 270,520 285,525 300,540 497,722"/>
<polyline class="dt" stroke="#1f77b4" points="641,450 934,568"/>
<polyline class="ln" stroke="#1f77b4" points="641,460 934,577"/>
<polyline class="dt" stroke="#ff7f0e" points="641,462 700,498 934,655"/>
<polyline class="ln" stroke="#ff7f0e" points="641,470 934,658"/>
<polyline class="dt" stroke="#2ca02c" points="641,478 720,535 934,720"/>
<polyline class="ln" stroke="#2ca02c" points="641,487 934,722"/>
<polyline class="dt" stroke="#1f77b4" points="1078,450 1372,533"/>
<polyline class="ln" stroke="#1f77b4" points="1078,460 1372,543"/>
<polyline class="dt" stroke="#ff7f0e" points="1078,465 1150,505 1372,628"/>
<polyline class="ln" stroke="#ff7f0e" points="1078,477 1372,630"/>
<polyline class="dt" stroke="#2ca02c" points="1078,482 1150,525 1372,720"/>
<polyline class="ln" stroke="#2ca02c" points="1078,492 1130,522 1372,723"/>
</g>
<rect x="2256" y="674" width="216" height="183" class="fr"/>
<rect x="2549" y="674" width="216" height="183" class="fr"/>
<rect x="2842" y="674" width="216" height="183" class="fr"/>
<g class="tk">
<path d="M2250,749H2256M2250,833H2256 M2266,857V863M2315,857V863M2363,857V863M2412,857V863M2461,857V863"/>
<path d="M2253,807.7H2256M2253,793H2256M2253,782.4H2256M2253,774.3H2256M2253,767.6H2256M2253,762H2256M2253,757.1H2256M2253,752.8H2256M2253,723.7H2256M2253,709H2256M2253,698.4H2256M2253,690.3H2256M2253,683.6H2256M2253,678H2256M2253,849H2256"/>
<path d="M2543,758H2549 M2559,857V863M2624,857V863M2689,857V863M2755,857V863"/>
<path d="M2546,790H2549M2546,775H2549M2546,768H2549M2546,728H2549M2546,712H2549M2546,700H2549M2546,691H2549M2546,684H2549M2546,677H2549M2546,820H2549M2546,840H2549"/>
<path d="M2836,737H2842M2836,823H2842 M2851,857V863M2949,857V863M3048,857V863"/>
<path d="M2839,797H2842M2839,783H2842M2839,772H2842M2839,764H2842M2839,757H2842M2839,751H2842M2839,746H2842M2839,741H2842M2839,711H2842M2839,696H2842M2839,685H2842M2839,677H2842"/>
<path d="M2880.6,857V860M2898,857V860M2910.3,857V860M2919.9,857V860M2927.6,857V860M2934.2,857V860M2939.9,857V860M2945,857V860M2978.6,857V860M2996,857V860M3008.3,857V860M3017.9,857V860M3025.6,857V860M3032.2,857V860M3037.9,857V860M3043,857V860"/>
</g>
<g class="t" font-size="16" text-anchor="end">
<text x="2248" y="755">10<tspan font-size="11" dy="-7">−1</tspan></text><text x="2248" y="839">10<tspan font-size="11" dy="-7">−2</tspan></text>
<text x="2541" y="764">10<tspan font-size="11" dy="-7">−1</tspan></text>
<text x="2834" y="743">10<tspan font-size="11" dy="-7">−1</tspan></text><text x="2834" y="829">10<tspan font-size="11" dy="-7">−2</tspan></text>
</g>
<g class="t" font-size="16" text-anchor="middle">
<text x="2266" y="881">10<tspan font-size="11" dy="-7">0</tspan></text><text x="2315" y="881">10<tspan font-size="11" dy="-7">1</tspan></text><text x="2363" y="881">10<tspan font-size="11" dy="-7">2</tspan></text><text x="2412" y="881">10<tspan font-size="11" dy="-7">3</tspan></text><text x="2461" y="881">10<tspan font-size="11" dy="-7">4</tspan></text>
<text x="2559" y="881">10<tspan font-size="11" dy="-7">0</tspan></text><text x="2624" y="881">10<tspan font-size="11" dy="-7">1</tspan></text><text x="2689" y="881">10<tspan font-size="11" dy="-7">2</tspan></text><text x="2755" y="881">10<tspan font-size="11" dy="-7">3</tspan></text>
<text x="2851" y="881">10<tspan font-size="11" dy="-7">0</tspan></text><text x="2949" y="881">10<tspan font-size="11" dy="-7">1</tspan></text><text x="3048" y="881">10<tspan font-size="11" dy="-7">2</tspan></text>
</g>
<g class="s i" font-size="16" text-anchor="middle"><text x="2364" y="900">T</text><text x="2657" y="900">D</text><text x="2949" y="900">N</text></g>
<g class="s" font-size="19" text-anchor="middle"><text x="2364" y="921">(a) Time scaling</text><text x="2657" y="921">(b) Data scaling</text><text x="2949" y="921">(c) Parameter scaling</text></g>
<g class="s i" font-size="17" text-anchor="middle">
<text transform="translate(2195,762) rotate(-90)">ℒ</text><text transform="translate(2490,762) rotate(-90)">ℒ</text><text transform="translate(2781,762) rotate(-90)">ℒ</text>
</g>
<g class="s" font-size="15">
<text x="2336" y="810" text-anchor="middle"><tspan class="i">D</tspan>, <tspan class="i">N</tspan> → ∞</text>
<text x="2264" y="833">···  <tspan class="i">ℒ</tspan> = <tspan class="i">A</tspan><tspan font-size="10" dy="3" class="i">T</tspan><tspan dy="-3" class="i">T</tspan><tspan font-size="10" dy="-7">−α/(α+1)</tspan></text>
<text x="2624" y="810" text-anchor="middle"><tspan class="i">N</tspan>, <tspan class="i">T</tspan> → ∞</text>
<text x="2553" y="833">···  <tspan class="i">ℒ</tspan> = <tspan class="i">A</tspan><tspan font-size="10" dy="3" class="i">D</tspan><tspan dy="-3" class="i">D</tspan><tspan font-size="10" dy="-7">−α/(α+1)</tspan></text>
<text x="2918" y="810" text-anchor="middle"><tspan class="i">T</tspan>, <tspan class="i">D</tspan> → ∞</text>
<text x="2846" y="833">···  <tspan class="i">ℒ</tspan> = <tspan class="i">A</tspan><tspan font-size="10" dy="3" class="i">N</tspan><tspan dy="-3" class="i">N</tspan><tspan font-size="10" dy="-7">−α</tspan></text>
</g>
<g stroke-width="2.6"><line x1="2463" y1="981" x2="2488" y2="981" stroke="#1f77b4"/><line x1="2600" y1="981" x2="2625" y2="981" stroke="#ff7f0e"/><line x1="2734" y1="981" x2="2759" y2="981" stroke="#2ca02c"/></g>
<g class="t" font-size="24"><text x="2503" y="990"><tspan class="s i">α</tspan> = 0.3</text><text x="2640" y="990"><tspan class="s i">α</tspan> = 0.6</text><text x="2775" y="990"><tspan class="s i">α</tspan> = 0.9</text></g>
<g transform="translate(2240,1000) scale(0.545,0.340)">
<polyline class="dt" stroke="#1f77b4" points="37,125 440,455"/>
<g class="lt" stroke="#1f77b4">
<path d="M37,62 L75,122 H440 M55,62 L115,154 H440 M75,62 L175,199 H440 M88,62 L190,216 H440 M100,62 L205,236 H440 M112,62 L245,273 H440 M135,62 L300,328 H440 M148,62 L320,349 H440 M158,62 L350,372 H440 M175,62 L380,422 H440 M210,62 L435,497 L440,497"/>
</g>
<polyline class="dt" stroke="#ff7f0e" points="583,120 985,455"/>
<g class="lt" stroke="#ff7f0e">
<path d="M583,85 L623,147 H985 M610,85 L673,183 H985 M625,85 L720,232 H985 M638,85 L744,250 H985 M650,85 L770,271 H985 M665,85 L811,311 H985 M685,85 L866,366 H985 M700,85 L893,384 H985 M715,85 L923,407 H985 M740,85 L963,430 H985 M755,85 L985,452"/>
</g>
<polyline class="dt" stroke="#2ca02c" points="1132,100 1535,430"/>
<g class="lt" stroke="#2ca02c">
<path d="M1132,92 L1176,160 H1533 M1150,92 L1218,197 H1533 M1170,92 L1270,247 H1533 M1180,92 L1293,267 H1533 M1195,92 L1321,287 H1533 M1210,92 L1362,327 H1533 M1232,92 L1418,380 H1533 M1245,92 L1444,400 H1533 M1260,92 L1465,410 H1533 M1290,92 L1505,425 H1533 M1305,92 L1533,430"/>
</g>
</g>
<rect x="2260" y="1013" width="220" height="189" class="fr"/>
<rect x="2558" y="1013" width="220" height="189" class="fr"/>
<rect x="2857" y="1013" width="219" height="189" class="fr"/>
<g class="tk">
<path d="M2260,1202V1208M2322,1202V1208M2384,1202V1208M2446,1202V1208 M2558,1202V1208M2620,1202V1208M2682,1202V1208M2744,1202V1208 M2857,1202V1208M2919,1202V1208M2981,1202V1208M3043,1202V1208"/>
<path d="M2291,1202V1205M2353,1202V1205M2415,1202V1205M2477,1202V1205 M2589,1202V1205M2651,1202V1205M2713,1202V1205M2775,1202V1205 M2888,1202V1205M2950,1202V1205M3012,1202V1205M3074,1202V1205"/>
<path d="M2254,1124H2260 M2552,1074H2558M2552,1147H2558 M2851,1053H2857M2851,1102H2857M2851,1152H2857"/>
<path d="M2257,1030H2260M2257,1045H2260M2257,1060H2260M2257,1078H2260M2257,1100H2260M2257,1148H2260M2257,1170H2260M2257,1188H2260 M2555,1030H2558M2555,1052H2558M2555,1100H2558M2555,1120H2558M2555,1170H2558M2555,1190H2558"/>
</g>
<g class="t" font-size="16" text-anchor="end">
<text x="2252" y="1130">10<tspan font-size="11" dy="-7">0</tspan></text>
<text x="2550" y="1080">10<tspan font-size="11" dy="-7">0</tspan></text><text x="2550" y="1153">10<tspan font-size="11" dy="-7">−1</tspan></text>
<text x="2849" y="1059">10<tspan font-size="11" dy="-7">0</tspan></text><text x="2849" y="1108">10<tspan font-size="11" dy="-7">−1</tspan></text><text x="2849" y="1158">10<tspan font-size="11" dy="-7">−2</tspan></text>
</g>
<g class="t" font-size="16" text-anchor="middle">
<text x="2260" y="1224">10<tspan font-size="11" dy="-7">2</tspan></text><text x="2322" y="1224">10<tspan font-size="11" dy="-7">4</tspan></text><text x="2384" y="1224">10<tspan font-size="11" dy="-7">6</tspan></text><text x="2446" y="1224">10<tspan font-size="11" dy="-7">8</tspan></text>
<text x="2558" y="1224">10<tspan font-size="11" dy="-7">2</tspan></text><text x="2620" y="1224">10<tspan font-size="11" dy="-7">4</tspan></text><text x="2682" y="1224">10<tspan font-size="11" dy="-7">6</tspan></text><text x="2744" y="1224">10<tspan font-size="11" dy="-7">8</tspan></text>
<text x="2857" y="1224">10<tspan font-size="11" dy="-7">2</tspan></text><text x="2919" y="1224">10<tspan font-size="11" dy="-7">4</tspan></text><text x="2981" y="1224">10<tspan font-size="11" dy="-7">6</tspan></text><text x="3043" y="1224">10<tspan font-size="11" dy="-7">8</tspan></text>
</g>
<g class="s i" font-size="16" text-anchor="middle"><text x="2369" y="1243">C</text><text x="2667" y="1243">C</text><text x="2966" y="1243">C</text>
<text transform="translate(2211,1104) rotate(-90)">ℒ</text><text transform="translate(2514,1102) rotate(-90)">ℒ</text><text transform="translate(2801,1105) rotate(-90)">ℒ</text></g>
<g class="s" font-size="20">
<text x="2240" y="1276" textLength="870" lengthAdjust="spacingAndGlyphs">The solid lines are the learning curves of the model as a function of compute  <tspan class="i">C</tspan> = <tspan class="i">T</tspan> × <tspan class="i">N</tspan> with</text>
<text x="2240" y="1302" textLength="872" lengthAdjust="spacingAndGlyphs">varying parameters <tspan class="i">N</tspan> from 10 (top plateau) to 10<tspan font-size="13" dy="-8">4</tspan><tspan dy="8"> (bottom plateau). Dotted lines are optimal</tspan></text>
<text x="2240" y="1327" textLength="465" lengthAdjust="spacingAndGlyphs">compute scaling laws with exponent −<tspan class="i">α</tspan>/(<tspan class="i">α</tspan> + 2).</text>
</g>
<!-- discussion -->
<rect x="2148" y="1366" width="1022" height="99" fill="#fbe5d6"/>
<text class="s b" x="2165" y="1408" font-size="38" textLength="988" lengthAdjust="spacingAndGlyphs">Discussion: Why would an MLP behave like a multilinear</text>
<text class="s b" x="2159" y="1452" font-size="38" textLength="999" lengthAdjust="spacingAndGlyphs">model with fixed skill functions and decoupled dynamics?</text>
<rect x="2148" y="1488" width="1022" height="53" fill="#002060"/>
<rect x="2148" y="1541" width="1022" height="56" fill="#c9c9c9"/>
<rect x="2148" y="1597" width="1022" height="54" fill="#e7e7e7"/>
<rect x="2148" y="1651" width="1022" height="55" fill="#c9c9c9"/>
<g class="s" font-size="36">
<text x="2158" y="1527" fill="#fff" textLength="186" lengthAdjust="spacingAndGlyphs">Multilinear</text>
<text x="2669" y="1527" fill="#fff" textLength="81" lengthAdjust="spacingAndGlyphs">MLP</text>
<text x="2158" y="1581" textLength="345" lengthAdjust="spacingAndGlyphs">Fixed basis functions</text>
<text x="2669" y="1581" textLength="270" lengthAdjust="spacingAndGlyphs">Feature learning</text>
<text x="2158" y="1636" textLength="348" lengthAdjust="spacingAndGlyphs">Decoupled dynamics</text>
<text x="2669" y="1636" textLength="247" lengthAdjust="spacingAndGlyphs">No decoupling</text>
<text x="2493" y="1691" class="b" textLength="333" lengthAdjust="spacingAndGlyphs">Layerwise structure</text>
</g>
<rect x="2148" y="1731" width="1022" height="100" fill="#fbe5d6"/>
<text class="s b" x="2220" y="1773" font-size="38" textLength="878" lengthAdjust="spacingAndGlyphs">Power-law in skill frequency + sigmoidal dynamics</text>
<text class="s b" x="2219" y="1818" font-size="38" textLength="881" lengthAdjust="spacingAndGlyphs">= stage-like training = effective decoupling of skills</text>
<text class="s" x="2649" y="1895" font-size="30" text-anchor="middle" textLength="152" lengthAdjust="spacingAndGlyphs">References</text>
<line x1="2171" y1="1908" x2="3137" y2="1908" stroke="#1f3864" stroke-width="3"/>
<g class="s" font-size="20">
<text x="2175" y="1953" textLength="953" lengthAdjust="spacingAndGlyphs">[1] Kaplan, McCandlish, et al., Scaling laws for neural language models. <tspan class="i">arXiv:2001.08361, 2020.</tspan></text>
<text x="2175" y="1980" textLength="707" lengthAdjust="spacingAndGlyphs">[2] Wei et al., Emergent abilities of large language models. <tspan class="i">TMLR 2022.</tspan></text>
<text x="2175" y="2008" textLength="761" lengthAdjust="spacingAndGlyphs">[3] Michaud et al., The Quantization Model of Neural Scaling, <tspan class="i">NeurIPS 2023.</tspan></text>
<text x="2175" y="2035" textLength="889" lengthAdjust="spacingAndGlyphs">[4] Saxe et al., Exact solutions to the nonlinear dynamics of learning in deep linear neural</text>
<text x="2175" y="2062" textLength="213" lengthAdjust="spacingAndGlyphs">networks, <tspan class="i">ICLR 2014.</tspan></text>
</g>

<!-- FOOTER -->
<rect x="0" y="2102" width="3179" height="143" fill="#d9d9d9"/>
<g class="s" font-size="26">
<text x="34" y="2149" textLength="807" lengthAdjust="spacingAndGlyphs">a Rudolf Peierls Centre for Theoretical Physics, University of Oxford</text>
<text x="34" y="2181" textLength="986" lengthAdjust="spacingAndGlyphs">b Center for Quantum Structures in Modules and Spaces, Seoul National University</text>
<text x="34" y="2213" textLength="835" lengthAdjust="spacingAndGlyphs">c Physical and Theoretical Chemistry Laboratory, University of Oxford</text>
</g>
<text class="s" x="1581" y="2190" font-size="36" textLength="1542" lengthAdjust="spacingAndGlyphs">(*) Equal contribution;  yoonsoo.nam@physics.ox.ac.uk, nayara.fonsecadesa@physics.ox.ac.uk</text>
</svg>
</body></html>
